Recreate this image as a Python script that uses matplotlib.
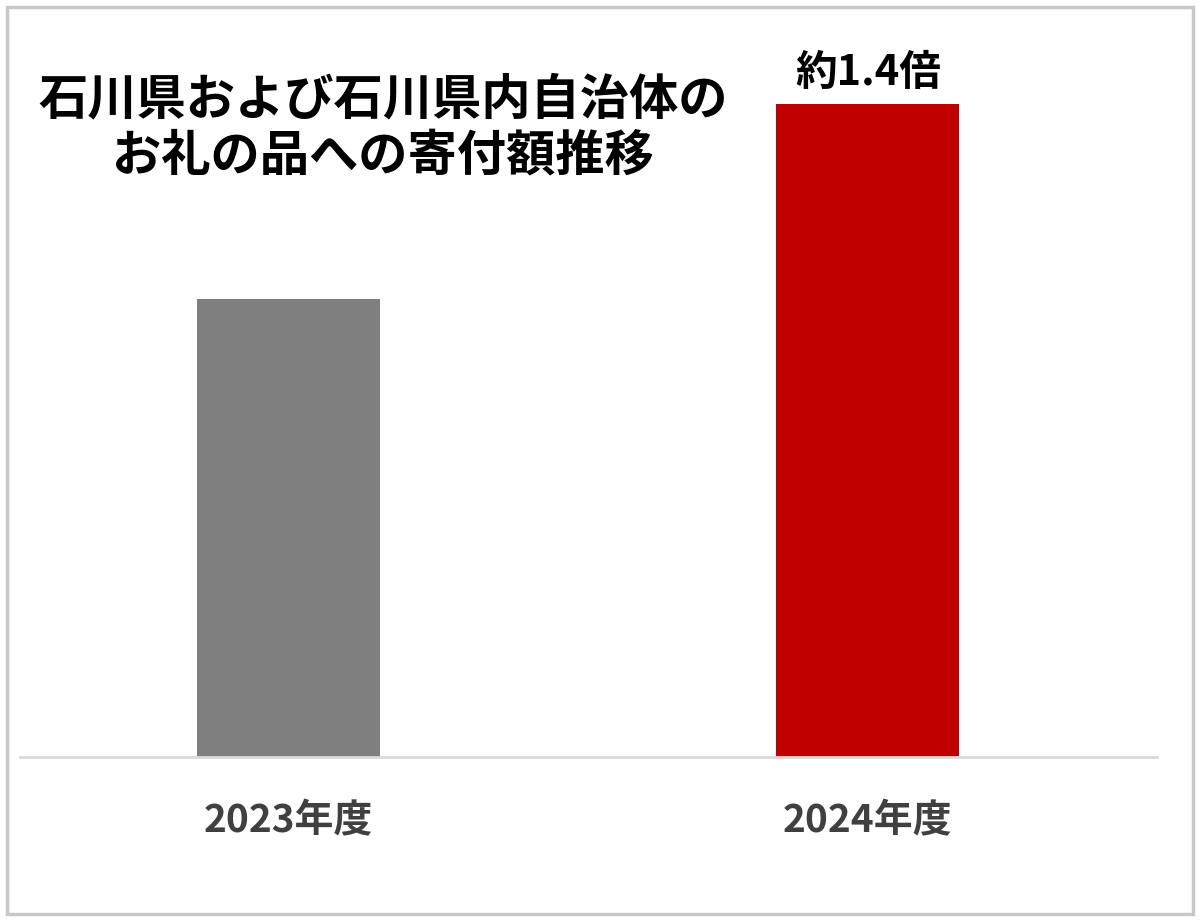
import matplotlib.pyplot as plt
import matplotlib.patches as patches

plt.rcParams['font.family'] = ['Noto Sans CJK JP', 'DejaVu Sans']

# data (index, 2023 = 100)
years = ['2023年度', '2024年度']
values = [100, 142.6]
bar_colors = ['#7f7f7f', '#c00000']
title_text = '石川県および石川県内自治体の\nお礼の品への寄付額推移'
ratio_label = '約1.4倍'

W, H = 1200, 921
fig = plt.figure(figsize=(W / 100, H / 100), dpi=100)
ax = fig.add_axes([20 / W, (H - 757) / H, 1137 / W, (757 - 60) / H])

ax.bar(range(len(years)), values, width=0.316, color=bar_colors)
ax.set_xlim(-0.463, 1.499)
ax.set_ylim(0, 152.2)

for s in ['top', 'right', 'left']:
    ax.spines[s].set_visible(False)
ax.spines['bottom'].set_color('#d9d9d9')
ax.spines['bottom'].set_linewidth(2)
ax.set_yticks([])
ax.set_xticks(range(len(years)))
ax.set_xticklabels(years, fontsize=28, fontweight='bold', color='#404040')
ax.tick_params(axis='x', length=0, pad=32)

# ratio label above the 2024 bar
ax.text(1, values[1] + 2.2, ratio_label, ha='center', va='bottom',
        fontsize=30, fontweight='bold', color='black')

fig.text(383 / W, 1 - 128 / H, title_text, ha='center', va='center',
         fontsize=35.5, fontweight='bold', color='black', linespacing=1.2)

# outer frame
fig.patches.append(patches.Rectangle((7 / W, 7 / H), 1186 / W, 907 / H,
                                     transform=fig.transFigure, fill=False,
                                     edgecolor='#c8c8c8', linewidth=2.5))

fig.savefig('out.png', dpi=100)
